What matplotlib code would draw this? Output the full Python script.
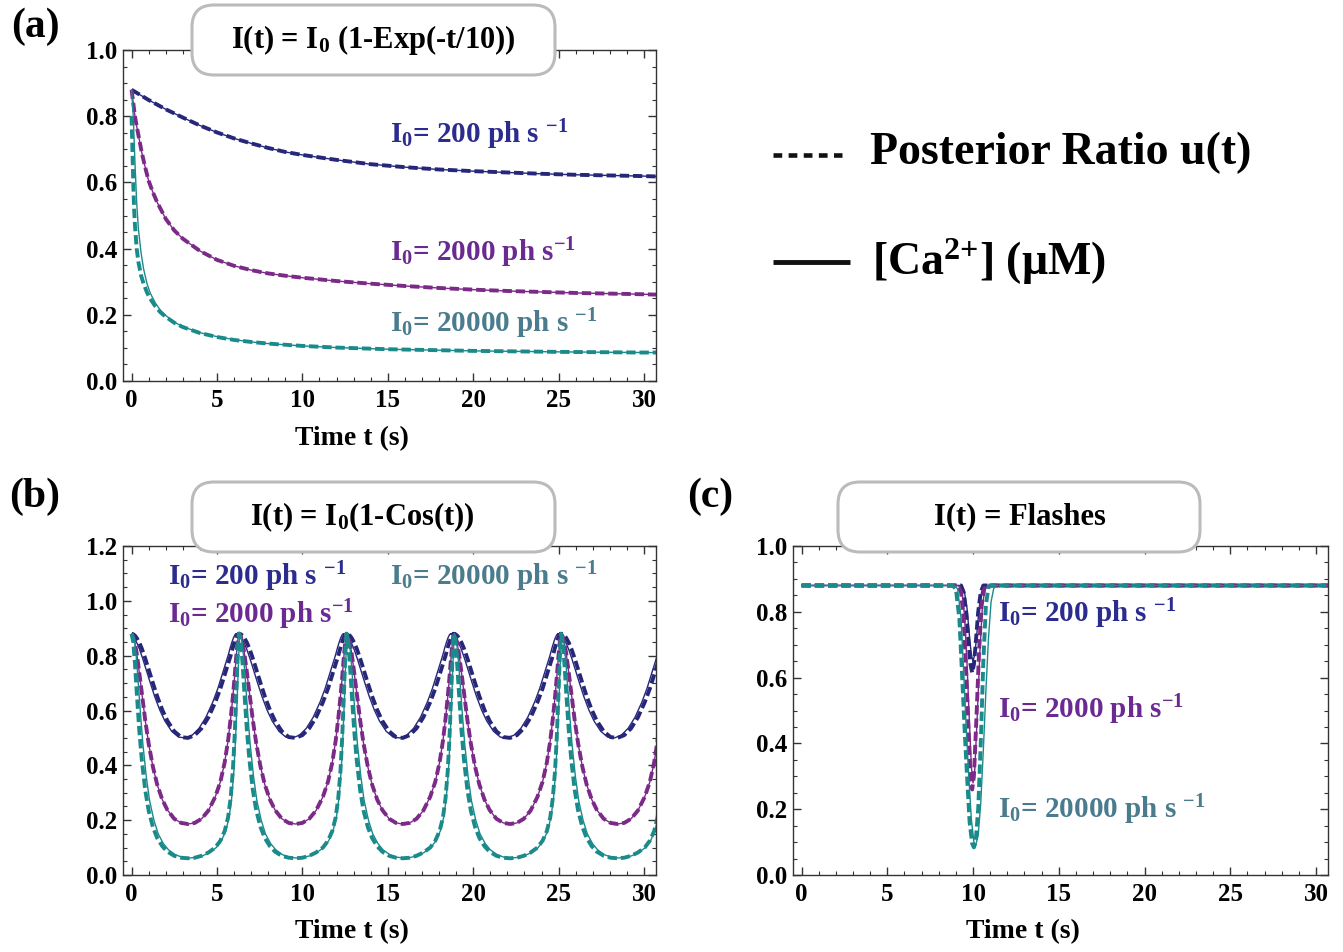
import numpy as np
import matplotlib
matplotlib.use("Agg")
import matplotlib.pyplot as plt
from matplotlib.patches import FancyBboxPatch
from matplotlib.lines import Line2D
from matplotlib.ticker import MultipleLocator, FormatStrFormatter

plt.rcParams['font.family'] = 'Liberation Serif'
plt.rcParams['font.weight'] = 'bold'
plt.rcParams['axes.labelweight'] = 'bold'
plt.rcParams['mathtext.fontset'] = 'custom'
plt.rcParams['mathtext.rm'] = 'Liberation Serif:bold'
plt.rcParams['mathtext.it'] = 'Liberation Serif:bold'
plt.rcParams['mathtext.bf'] = 'Liberation Serif:bold'
plt.rcParams['mathtext.default'] = 'rm'

NAVY = '#27277a'
PURPLE = '#7b2a88'
TEAL = '#1b8a8a'
NAVY_TXT = '#2c2c8e'
PURPLE_TXT = '#6b2a92'
TEAL_TXT = '#4a7c8e'

# ---------------- panel (a): I(t) = I0(1-Exp(-t/10)) ----------------
a_t_navy = [0, 1, 2, 3, 4, 5, 6, 7, 8, 9, 10, 12, 14, 16, 18, 20, 22, 24, 26, 28, 30, 30.7]
a_navy = [0.880, 0.849, 0.821, 0.796, 0.772, 0.751, 0.733, 0.718, 0.704, 0.692, 0.683, 0.668,
          0.655, 0.646, 0.639, 0.634, 0.630, 0.626, 0.623, 0.621, 0.619, 0.618]

a_t_purple = [0, 0.1, 0.2, 0.3, 0.45, 0.6, 0.8, 1.0, 1.25, 1.5, 2, 2.5, 3, 4, 5, 6, 7, 8, 9, 10,
              12, 14, 16, 18, 20, 22, 24, 26, 28, 30, 30.7]
a_purple = [0.88, 0.84, 0.80, 0.77, 0.73, 0.69, 0.645, 0.605, 0.57, 0.54, 0.49, 0.455, 0.43, 0.393,
            0.366, 0.348, 0.335, 0.325, 0.318, 0.312, 0.302, 0.294, 0.287, 0.281, 0.276, 0.272,
            0.269, 0.266, 0.264, 0.262, 0.261]

a_t_teal_u = [0, 0.05, 0.1, 0.15, 0.2, 0.3, 0.4, 0.55, 0.7, 0.9, 1.1, 1.4, 1.7, 2, 2.5, 3, 4, 5, 6,
              7, 8, 10, 12, 15, 20, 25, 30, 30.7]
a_teal_u = [0.80, 0.70, 0.60, 0.52, 0.47, 0.40, 0.36, 0.32, 0.295, 0.268, 0.248, 0.225, 0.207, 0.194,
            0.176, 0.163, 0.145, 0.133, 0.124, 0.118, 0.113, 0.106, 0.101, 0.096, 0.091, 0.088,
            0.086, 0.086]
a_t_teal_ca = [0, 0.1, 0.2, 0.3, 0.4, 0.55, 0.7, 0.9, 1.1, 1.4, 1.7, 2, 2.5, 3, 4, 5, 6, 7, 8, 10,
               12, 15, 20, 25, 30, 30.7]
a_teal_ca = [0.88, 0.80, 0.66, 0.54, 0.46, 0.39, 0.34, 0.295, 0.265, 0.235, 0.213, 0.198, 0.178,
             0.164, 0.146, 0.134, 0.125, 0.118, 0.113, 0.106, 0.101, 0.096, 0.091, 0.088, 0.086, 0.086]

# ---------------- panel (b): I(t) = I0(1-Cos(t)) ----------------
# one cycle, as offset from a peak
b_offs = [0, 0.1, 0.2, 0.3, 0.45, 0.6, 0.8, 1.0, 1.25, 1.5, 1.8, 2.1, 2.5, 2.9, 3.3, 3.7, 4.1,
          4.5, 4.9, 5.2, 5.45, 5.65, 5.8, 5.93, 6.03, 6.12, 6.2, 6.25, 6.283]
b_navy = [0.88, 0.878, 0.873, 0.865, 0.848, 0.826, 0.79, 0.75, 0.70, 0.652, 0.602, 0.562, 0.524,
          0.503, 0.50, 0.51, 0.535, 0.575, 0.63, 0.68, 0.73, 0.77, 0.80, 0.83, 0.85, 0.866,
          0.876, 0.879, 0.88]
b_purple = [0.88, 0.87, 0.845, 0.81, 0.74, 0.665, 0.565, 0.48, 0.395, 0.33, 0.275, 0.237, 0.205,
            0.19, 0.186, 0.19, 0.205, 0.235, 0.285, 0.34, 0.41, 0.49, 0.57, 0.65, 0.72, 0.79,
            0.845, 0.87, 0.88]
b_teal_u = [0.88, 0.85, 0.77, 0.67, 0.53, 0.42, 0.31, 0.235, 0.175, 0.135, 0.105, 0.085, 0.07,
            0.063, 0.061, 0.063, 0.07, 0.082, 0.10, 0.125, 0.16, 0.21, 0.28, 0.38, 0.50, 0.64,
            0.78, 0.85, 0.88]
b_teal_ca = [0.88, 0.865, 0.81, 0.73, 0.60, 0.48, 0.36, 0.27, 0.20, 0.15, 0.115, 0.092, 0.074,
             0.065, 0.062, 0.064, 0.07, 0.082, 0.10, 0.125, 0.16, 0.21, 0.28, 0.38, 0.50, 0.64,
             0.78, 0.85, 0.88]
b_peaks_u = [0, 6.30, 12.58, 18.86, 25.14]
b_peaks_ca = [-0.15, 6.13, 12.41, 18.69, 24.97]
b_peaks_teal_ca = [0.06, 6.34, 12.62, 18.90, 25.18]

# ---------------- panel (c): I(t) = Flashes ----------------
c_t_navy_u = [0, 9.3, 9.45, 9.6, 9.75, 9.85, 9.95, 10.05, 10.15, 10.3, 10.45, 10.6, 30.7]
c_navy_u = [0.88, 0.88, 0.86, 0.80, 0.70, 0.64, 0.615, 0.64, 0.70, 0.80, 0.86, 0.88, 0.88]
c_t_navy_ca = [0, 9.35, 9.5, 9.65, 9.8, 9.9, 10.0, 10.1, 10.2, 10.35, 10.5, 10.65, 30.7]
c_navy_ca = [0.88, 0.88, 0.86, 0.81, 0.72, 0.67, 0.65, 0.67, 0.72, 0.81, 0.86, 0.88, 0.88]
c_t_purple_u = [0, 9.1, 9.3, 9.45, 9.6, 9.75, 9.85, 9.95, 10.05, 10.2, 10.35, 10.5, 10.65, 10.8, 30.7]
c_purple_u = [0.88, 0.88, 0.86, 0.78, 0.62, 0.42, 0.30, 0.26, 0.30, 0.48, 0.68, 0.82, 0.87, 0.88, 0.88]
c_t_purple_ca = [0, 9.15, 9.35, 9.5, 9.65, 9.8, 9.9, 10.0, 10.1, 10.25, 10.4, 10.55, 10.7, 10.85, 30.7]
c_purple_ca = [0.88, 0.88, 0.86, 0.79, 0.64, 0.45, 0.33, 0.28, 0.32, 0.49, 0.68, 0.82, 0.87, 0.88, 0.88]
c_t_teal_u = [0, 8.8, 9.0, 9.2, 9.35, 9.5, 9.65, 9.8, 9.95, 10.05, 10.15, 10.3, 10.45, 10.6, 10.75,
              10.9, 11.05, 30.7]
c_teal_u = [0.88, 0.88, 0.87, 0.78, 0.62, 0.45, 0.30, 0.16, 0.095, 0.084, 0.10, 0.20, 0.40, 0.65,
            0.82, 0.875, 0.88, 0.88]
c_t_teal_ca = [0, 8.9, 9.1, 9.3, 9.45, 9.6, 9.75, 9.9, 10.05, 10.15, 10.3, 10.45, 10.6, 10.75, 10.9,
               11.05, 11.2, 11.35, 30.7]
c_teal_ca = [0.88, 0.88, 0.87, 0.78, 0.62, 0.45, 0.30, 0.17, 0.10, 0.09, 0.12, 0.22, 0.38, 0.56,
             0.72, 0.83, 0.87, 0.88, 0.88]

labels = [r"I$_0$= 200 ph s $^{-1}$", r"I$_0$= 2000 ph s$^{-1}$", r"I$_0$= 20000 ph s $^{-1}$"]


def cycle_series(peaks, offs, vals):
    t = np.concatenate([p + np.asarray(offs) for p in peaks])
    v = np.concatenate([np.asarray(vals) for _ in peaks])
    keep = t >= 0
    return t[keep], v[keep]


def style_axes(ax, ymax):
    ax.set_xlim(-0.5, 30.7)
    ax.set_ylim(0, ymax)
    ax.xaxis.set_major_locator(MultipleLocator(5))
    ax.xaxis.set_minor_locator(MultipleLocator(1))
    ax.yaxis.set_major_locator(MultipleLocator(0.2))
    ax.yaxis.set_minor_locator(MultipleLocator(0.05))
    ax.yaxis.set_major_formatter(FormatStrFormatter('%.1f'))
    ax.tick_params(which='both', direction='in', top=True, right=True, colors='#333333',
                   labelcolor='black', labelsize=18)
    ax.tick_params(which='major', length=6, width=1)
    ax.tick_params(which='minor', length=3, width=0.8)
    ax.tick_params(axis='x', pad=6)
    ax.tick_params(axis='y', pad=4)
    for s in ax.spines.values():
        s.set_color('#333333')
        s.set_linewidth(1)
    ax.set_xlabel('Time t (s)', fontsize=20, fontweight='bold')
    ax.xaxis.set_label_coords(0.43, -0.135)


def pair(ax, t_ca, ca, t_u, u, color):
    ax.plot(t_ca, ca, color=color, lw=1.0, solid_capstyle='butt')
    ax.plot(t_u, u, color=color, lw=2.8, dashes=(2.4, 1.0), dash_capstyle='butt')


fig = plt.figure(figsize=(13.43, 9.52), dpi=100)
W, H = 1343.0, 952.0

ax_a = fig.add_axes([123 / W, 1 - 381 / H, 533 / W, 331 / H])
ax_b = fig.add_axes([123 / W, 1 - 875 / H, 533 / W, 329 / H])
ax_c = fig.add_axes([793 / W, 1 - 875 / H, 535 / W, 329 / H])

# (a)
pair(ax_a, a_t_navy, a_navy, a_t_navy, a_navy, NAVY)
pair(ax_a, a_t_purple, a_purple, a_t_purple, a_purple, PURPLE)
pair(ax_a, a_t_teal_ca, a_teal_ca, a_t_teal_u, a_teal_u, TEAL)
style_axes(ax_a, 1.0)
ax_a.text(15.15, 0.717, labels[0], color=NAVY_TXT, fontsize=21)
ax_a.text(15.15, 0.362, labels[1], color=PURPLE_TXT, fontsize=21)
ax_a.text(15.15, 0.146, labels[2], color=TEAL_TXT, fontsize=21)

# (b)
for vals_ca, vals_u, pk_ca, color in [(b_navy, b_navy, b_peaks_ca, NAVY),
                                      (b_purple, b_purple, b_peaks_u, PURPLE),
                                      (b_teal_ca, b_teal_u, b_peaks_teal_ca, TEAL)]:
    tc, vc = cycle_series(pk_ca, b_offs, vals_ca)
    tu, vu = cycle_series(b_peaks_u, b_offs, vals_u)
    pair(ax_b, tc, vc, tu, vu, color)
style_axes(ax_b, 1.2)
ax_b.text(2.16, 1.058, labels[0], color=NAVY_TXT, fontsize=21)
ax_b.text(2.16, 0.919, labels[1], color=PURPLE_TXT, fontsize=21)
ax_b.text(15.15, 1.058, labels[2], color=TEAL_TXT, fontsize=21)

# (c)
pair(ax_c, c_t_navy_ca, c_navy_ca, c_t_navy_u, c_navy_u, NAVY)
pair(ax_c, c_t_purple_ca, c_purple_ca, c_t_purple_u, c_purple_u, PURPLE)
pair(ax_c, c_t_teal_ca, c_teal_ca, c_t_teal_u, c_teal_u, TEAL)
style_axes(ax_c, 1.0)
ax_c.text(11.46, 0.769, labels[0], color=NAVY_TXT, fontsize=21)
ax_c.text(11.46, 0.477, labels[1], color=PURPLE_TXT, fontsize=21)
ax_c.text(11.46, 0.173, labels[2], color=TEAL_TXT, fontsize=21)

# overlay in pixel coordinates: title boxes, panel letters, legend
ov = fig.add_axes([0, 0, 1, 1])
ov.set_xlim(0, W)
ov.set_ylim(0, H)
ov.axis('off')

boxes = [(192, 5, 555, 75, r"I(t) = I$_0$ (1-Exp(-t/10))", 373),
         (192, 482, 555, 552, r"I(t) = I$_0$(1-Cos(t))", 362),
         (838, 482, 1200, 552, "I(t) = Flashes", 1020)]
for x0, y0, x1, y1, txt, xc in boxes:
    ov.add_patch(FancyBboxPatch((x0, H - y1), x1 - x0, y1 - y0,
                                boxstyle="round,pad=0,rounding_size=22",
                                facecolor='white', edgecolor='#bbbbbb', lw=2.2))
    ov.text(xc, H - (y0 + y1) / 2, txt, fontsize=22, ha='center', va='center')

for x, y, s in [(35, 27, '(a)'), (35, 497, '(b)'), (710, 497, '(c)')]:
    ov.text(x, H - y, s, fontsize=30, ha='center', va='center')

ov.add_line(Line2D([773, 842], [H - 155, H - 155], color='#111111', lw=3.3,
                   dashes=(1.9, 1.4), dash_capstyle='butt'))
ov.add_line(Line2D([773, 850], [H - 262, H - 262], color='#111111', lw=3.5,
                   solid_capstyle='butt'))
ov.text(870, H - 153, 'Posterior Ratio u(t)', fontsize=33, va='center', ha='left')
ov.text(872, H - 262, r"[Ca$^{2{+}}$] (μM)", fontsize=33, va='center', ha='left')

fig.savefig('out.png', dpi=100)
